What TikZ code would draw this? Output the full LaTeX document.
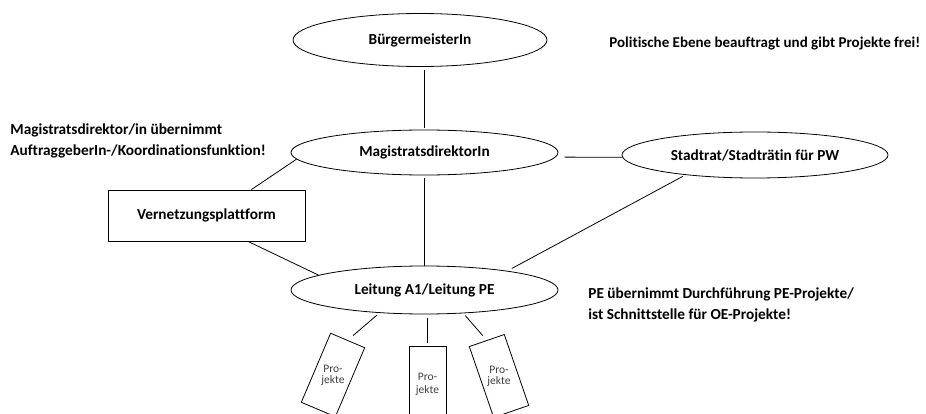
\documentclass[tikz,border=0pt]{standalone}
\usepackage{fontspec}
\setmainfont{Carlito}[Ligatures=CommonOff]
\usetikzlibrary{shapes.geometric}

\tikzset{
  amt/.style={draw, ellipse, inner sep=0pt, font=\bfseries\fontsize{15.3}{20}\selectfont},
  plattform/.style={draw, rectangle, inner sep=0pt, font=\bfseries\fontsize{15.3}{20}\selectfont},
  projekt/.style={draw, rectangle, inner sep=0pt, minimum width=37pt, minimum height=75pt,
    align=center, text=black!75, font=\fontsize{11.5}{13}\selectfont},
  notiz/.style={inner sep=0pt, align=left, font=\bfseries\fontsize{15.3}{20.5}\selectfont},
}

\begin{document}
\begin{tikzpicture}[x=1pt, y=-1pt, line width=0.8pt]
        \useasboundingbox (0,0) rectangle (926,414);

        \node [amt, minimum width=254, minimum height=53] (buerg) at (420,40) {BürgermeisterIn};
        \node [amt, minimum width=267, minimum height=45] (magis) at (424.5,152.5) {MagistratsdirektorIn};
        \node [amt, minimum width=266, minimum height=46] (stadt) at (755,155) {Stadtrat/Stadträtin für PW};
        \node [amt, minimum width=267, minimum height=48] (leit) at (424.5,290) {Leitung A1/Leitung PE};

        \node [plattform, minimum width=197, minimum height=51] (vernetz) at (206.5,215.5) {Vernetzungsplattform};

        \node [projekt, rotate=-23] (proj1) at (333,375) {\rotatebox{23}{\shortstack{Pro-\\jekte}}};
        \node [projekt] (proj2) at (427.5,384) {Pro-\\jekte};
        \node [projekt, rotate=19] (proj3) at (499,376) {\rotatebox{-19}{\shortstack{Pro-\\jekte}}};

        \node [notiz, anchor=base west, font=\bfseries\fontsize{15}{20}\selectfont] (polit) at (609,48) {Politische Ebene beauftragt und gibt Projekte frei!};
        \node [notiz, anchor=base west] (magtxt) at (10,155.5) {Magistratsdirektor/in übernimmt\\AuftraggeberIn-/Koordinationsfunktion!};
        \node [notiz, anchor=base west] (petxt) at (588,319) {PE übernimmt Durchführung PE-Projekte/\\ist Schnittstelle für OE-Projekte!};

        \draw [shorten <=3pt, shorten >=2pt] (magis.north |- buerg.south) -- (magis.north);
        \draw [shorten <=9pt] (magis.-2.4) -- (stadt.181.3);
        \draw (magis.183.4) -- (vernetz.30.4);
        \draw [shorten <=3pt] (magis.south) -- (leit.north);
        \draw (vernetz.-32.2) -- (leit.172);
        \draw [shorten <=3pt, shorten >=5pt] (stadt.196.2) -- (leit.13.6);

        \draw [shorten <=3pt, shorten >=7pt] (leit.207) -- (proj1.north);
        \draw [shorten <=4pt, shorten >=3pt] (leit.south -| proj2.north) -- (proj2.north);
        \draw [shorten <=3pt, shorten >=6pt] (leit.-31) -- (proj3.north);
\end{tikzpicture}
\end{document}
